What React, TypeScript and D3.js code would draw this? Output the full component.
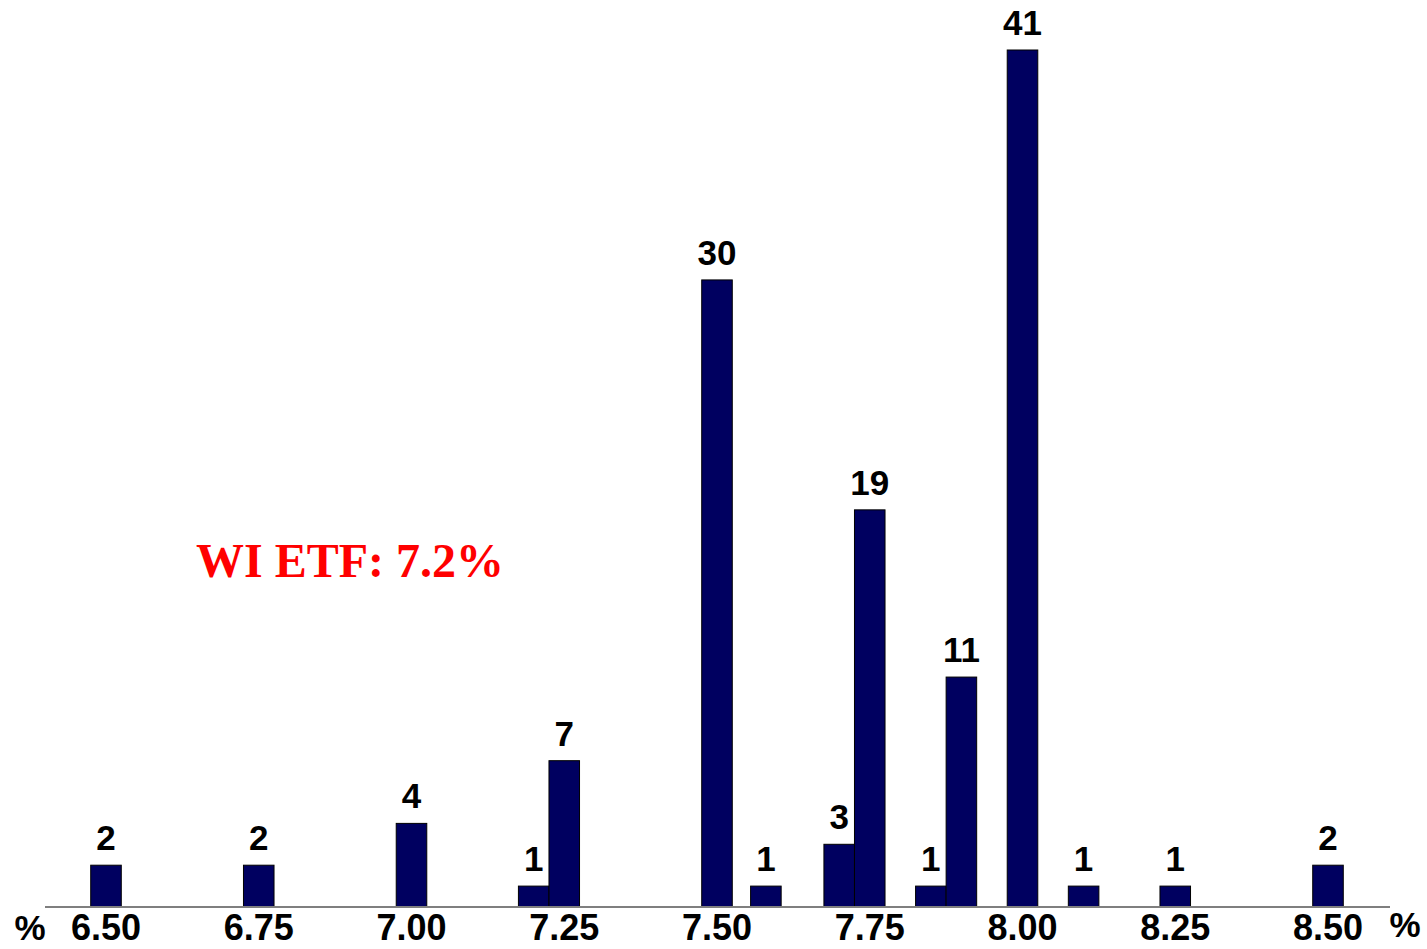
import React from "react";
import * as d3 from "d3";

// Histogram of yields (%) with counts per bin
const binCenters = [6.5, 6.75, 7.0, 7.2, 7.25, 7.5, 7.58, 7.7, 7.75, 7.85, 7.9, 8.0, 8.1, 8.25, 8.5];
const counts = [2, 2, 4, 1, 7, 30, 1, 3, 19, 1, 11, 41, 1, 1, 2];
const tickValues = [6.5, 6.75, 7.0, 7.25, 7.5, 7.75, 8.0, 8.25, 8.5];
const tickLabels = ["6.50", "6.75", "7.00", "7.25", "7.50", "7.75", "8.00", "8.25", "8.50"];
const annotation = "WI ETF: 7.2%";

const W = 1427;
const H = 949;
const binWidth = 0.05;

export default function App() {
  const x = d3.scaleLinear().domain([6.5, 8.5]).range([106, 1328]);
  const y = d3.scaleLinear().domain([0, 41]).range([907, 50]);
  const bw = x(6.5 + binWidth) - x(6.5);
  const sans = "Arial, 'Liberation Sans', Helvetica, sans-serif";

  return (
    <div style={{ position: "absolute", left: 0, top: 0 }}>
      <svg width={W} height={H} style={{ display: "block", background: "#fff" }}>
        {binCenters.map((c, i) => (
          <g key={i}>
            <rect
              x={x(c) - bw / 2}
              y={y(counts[i])}
              width={bw}
              height={y(0) - y(counts[i])}
              fill="#000060"
              stroke="#000"
              strokeWidth={1}
            />
            <text
              x={x(c)}
              y={y(counts[i]) - 15}
              textAnchor="middle"
              fontFamily={sans}
              fontWeight="bold"
              fontSize={35}
              fill="#000"
            >
              {counts[i]}
            </text>
          </g>
        ))}
        <line x1={45} x2={1390} y1={y(0)} y2={y(0)} stroke="#7f7f7f" strokeWidth={2} />
        {tickValues.map((t, i) => (
          <text
            key={t}
            x={x(t)}
            y={940}
            textAnchor="middle"
            fontFamily={sans}
            fontWeight="bold"
            fontSize={36}
            fill="#000"
          >
            {tickLabels[i]}
          </text>
        ))}
        <text x={30} y={940} textAnchor="middle" fontFamily={sans} fontWeight="bold" fontSize={35} fill="#000">
          %
        </text>
        <text x={1405} y={937} textAnchor="middle" fontFamily={sans} fontWeight="bold" fontSize={35} fill="#000">
          %
        </text>
        <text
          x={196}
          y={577}
          fontFamily="'Times New Roman', 'Liberation Serif', serif"
          fontWeight="bold"
          fontSize={48}
          fill="#ff0000"
        >
          {annotation}
        </text>
      </svg>
    </div>
  );
}
